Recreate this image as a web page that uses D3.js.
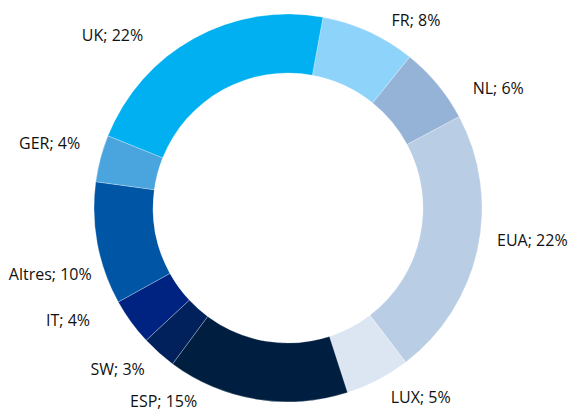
<!DOCTYPE html>
<html>
<head>
<meta charset="utf-8">
<script src="https://cdn.jsdelivr.net/npm/d3@7"></script>
<style>
  body { margin: 0; background: #fff; }
  text { font-family: "Open Sans", sans-serif; font-size: 16px; fill: #111; }
</style>
</head>
<body>
<div id="chart"></div>
<script>
// shares in %, clockwise from FR
const countries = ["FR", "NL", "EUA", "LUX", "ESP", "SW", "IT", "Altres", "GER", "UK"];
const shares = [7.9, 6.4, 22.4, 5.4, 15.1, 2.9, 3.9, 10.2, 3.9, 21.8];
const colors = ["#8ED3FA", "#95B3D7", "#B9CDE5", "#DCE6F2", "#001F40",
                "#00215C", "#002382", "#0055A5", "#4AA5DE", "#00B0F0"];

// hand nudges for the labels (they were dragged around in the original)
const labelNudge = {
    FR: [14, 8], NL: [19, 17], EUA: [-1, -13], LUX: [3, -1], ESP: [-56, -19],
    SW: [0, 1], IT: [-24, -14], Altres: [15, 27], GER: [0, -10], UK: [-41, 16]
};

const width = 571, height = 412;
const cx = 288, cy = 208;
const outerR = 194, innerR = 135, labelR = 215;
const startAngle = 10.4 * Math.PI / 180;

const svg = d3.select("#chart").append("svg")
    .attr("width", width)
    .attr("height", height);

const g = svg.append("g")
    .attr("transform", "translate(" + cx + "," + cy + ")");

const data = countries.map((c, i) => ({name: c, value: shares[i], color: colors[i]}));
const total = d3.sum(shares);

const pie = d3.pie()
    .sort(null)
    .value(d => d.value)
    .startAngle(startAngle)
    .endAngle(startAngle + 2 * Math.PI);

const arc = d3.arc()
    .innerRadius(innerR)
    .outerRadius(outerR);

const arcs = pie(data);

g.selectAll("path")
    .data(arcs)
    .enter().append("path")
    .attr("d", arc)
    .attr("fill", d => d.data.color)
    .attr("stroke", "rgba(255,255,255,0.45)")
    .attr("stroke-width", 0.6);

g.selectAll(".lbl")
    .data(arcs)
    .enter().append("text")
    .attr("class", "lbl")
    .attr("x", function (d) {
        const a = (d.startAngle + d.endAngle) / 2;
        return Math.sin(a) * labelR + labelNudge[d.data.name][0];
    })
    .attr("y", function (d) {
        const a = (d.startAngle + d.endAngle) / 2;
        return -Math.cos(a) * labelR + labelNudge[d.data.name][1];
    })
    .attr("dy", "0.35em")
    .attr("text-anchor", function (d) {
        const a = ((d.startAngle + d.endAngle) / 2) % (2 * Math.PI);
        return a < Math.PI ? "start" : "end";
    })
    .text(d => d.data.name + "; " + Math.round(d.data.value / total * 100) + "%");
</script>
</body>
</html>
